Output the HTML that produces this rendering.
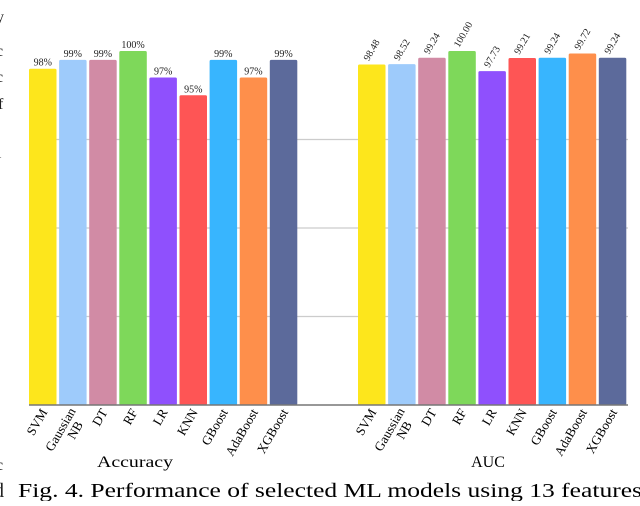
<!DOCTYPE html>
<html><head><meta charset="utf-8"><style>
body{margin:0;background:#fff;width:640px;height:501px;overflow:hidden;font-family:"Liberation Serif",serif}
</style></head><body>
<svg id="chart" width="640" height="501" xmlns="http://www.w3.org/2000/svg" font-family="Liberation Serif, serif">
<g fill="#222" font-size="16">
<text x="-4" y="22">y</text><text x="-4" y="56">c</text><text x="-4" y="82">c</text><text x="-2" y="109">f</text><text x="-3" y="158">l</text><text x="-4" y="470">c</text><text x="-6" y="497" font-size="20">d</text>
</g>
<g id="grid"></g>
<g id="bars"></g>
<line x1="29" x2="628" y1="405" y2="405" stroke="#777" stroke-width="1.5"/>
<g id="labels"></g>
<text x="135" y="467" font-size="16" text-anchor="middle" textLength="76" lengthAdjust="spacingAndGlyphs">Accuracy</text>
<text x="488" y="467" font-size="16" text-anchor="middle">AUC</text>
<text x="18" y="497" font-size="20" textLength="624" lengthAdjust="spacingAndGlyphs">Fig. 4. Performance of selected ML models using 13 features</text>
</svg>
<script>
const categories=["SVM","Gaussian NB","DT","RF","LR","KNN","GBoost","AdaBoost","XGBoost"];
const colors=["#fde61c","#9ecbfb","#d18ba5","#7ed85a","#8f50fd","#fe5555","#38b5fe","#fe8f4b","#5c6a9b"];
const accuracy=[98,99,99,100,97,95,99,97,99];
const accuracyLabels=["98%","99%","99%","100%","97%","95%","99%","97%","99%"];
const auc=[98.48,98.52,99.24,100.00,97.73,99.21,99.24,99.72,99.24];
const aucLabels=["98.48","98.52","99.24","100.00","97.73","99.21","99.24","99.72","99.24"];
const yTicks=[60,70,80,90,100];
const NS="http://www.w3.org/2000/svg";
const y=v=>405-(v-60)*8.85;
const groupStart=[29,358], pitch=30.1, bw=27.5;
const grid=document.getElementById('grid');
yTicks.slice(1,4).forEach(t=>{const l=document.createElementNS(NS,'line');


l.setAttribute('x1',29);l.setAttribute('x2',628);l.setAttribute('y1',y(t));l.setAttribute('y2',y(t));
l.setAttribute('stroke','#ccc');l.setAttribute('stroke-width','1.2');grid.appendChild(l);});
const bars=document.getElementById('bars'),labels=document.getElementById('labels');
[[accuracy,accuracyLabels,'accuracy'],[auc,aucLabels,'auc']].forEach(([vals,txt,g],gi)=>{
vals.forEach((v,i)=>{const x=groupStart[gi]+i*pitch;
const r=document.createElementNS(NS,'rect');


r.setAttribute('x',x);r.setAttribute('y',y(v));r.setAttribute('width',bw);r.setAttribute('height',405-y(v));
r.setAttribute('rx',1.5);r.setAttribute('fill',colors[i]);bars.appendChild(r);
const t=document.createElementNS(NS,'text');


t.setAttribute('font-size','10');t.setAttribute('fill','#222');
const cx=x+bw/2;
if(gi===0){t.setAttribute('x',cx);t.setAttribute('y',y(v)-3);t.setAttribute('text-anchor','middle');}
else{t.setAttribute('transform',`translate(${cx-3},${y(v)-3}) rotate(-60)`);}
t.textContent=txt[i];bars.appendChild(t);
const parts=categories[i].split(' ');
const c=document.createElementNS(NS,'text');


c.setAttribute('font-size','13');c.setAttribute('text-anchor','end');
c.setAttribute('transform',`translate(${cx+5},${412}) rotate(-60)`);
parts.forEach((p,k)=>{const s=document.createElementNS(NS,'tspan');s.setAttribute('x',parts.length>1&&k==1?-8:0);s.setAttribute('dy',k?13:0);
if(parts.length>1&&k==0)s.setAttribute('dy',-2);s.textContent=p;c.appendChild(s);});
labels.appendChild(c);});});
</script>
</body></html>
